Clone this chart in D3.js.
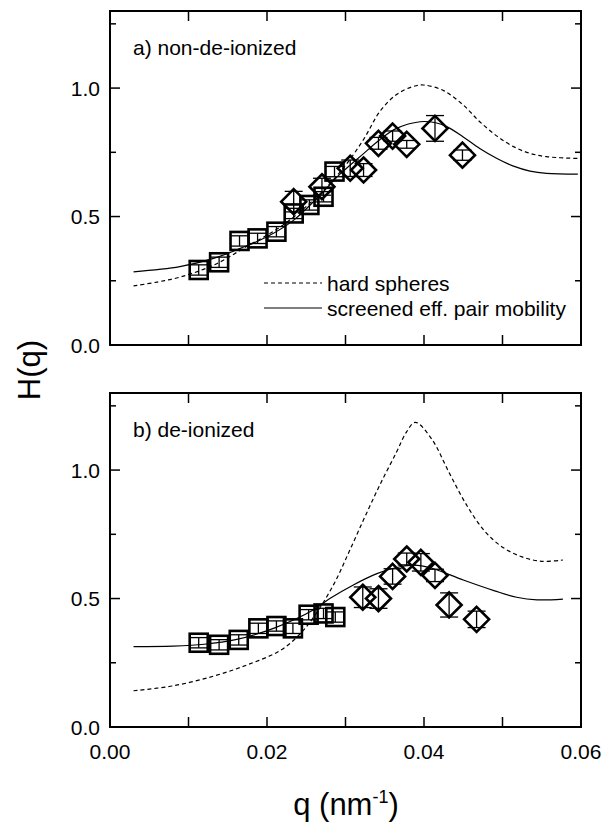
<!DOCTYPE html>
<html>
<head>
<meta charset="utf-8">
<script src="https://cdn.jsdelivr.net/npm/d3@7"></script>
<style>
  body { margin: 0; background: #fff; }
  text { font-family: "Liberation Sans", Arial, Helvetica, sans-serif; fill: #000; }
</style>
</head>
<body>
<svg id="chart"></svg>
<script>
// panel a) non-de-ionized : [q, H, err]
const squaresA = [
  [0.0113, 0.292, 0.02], [0.0139, 0.322, 0.02], [0.0165, 0.405, 0.02],
  [0.0188, 0.415, 0.02], [0.0212, 0.441, 0.02], [0.0234, 0.512, 0.02],
  [0.0254, 0.545, 0.02], [0.0272, 0.577, 0.02], [0.0286, 0.675, 0.02]
];
const diamondsA = [
  [0.0234, 0.558, 0.04], [0.0270, 0.616, 0.033], [0.0306, 0.688, 0.032],
  [0.0323, 0.681, 0.025], [0.0342, 0.785, 0.023], [0.0360, 0.813, 0.02],
  [0.0378, 0.781, 0.015], [0.0414, 0.843, 0.05], [0.0449, 0.739, 0.02]
];
const hardA = [
  [0.003, 0.23], [0.006, 0.245], [0.009, 0.265], [0.0132, 0.311], [0.0174, 0.383],
  [0.0217, 0.46], [0.0259, 0.564], [0.0295, 0.68], [0.0323, 0.80], [0.0344, 0.91],
  [0.0365, 0.975], [0.0385, 1.005], [0.0399, 1.012], [0.0425, 0.99], [0.045, 0.934],
  [0.0471, 0.869], [0.0493, 0.813], [0.0514, 0.772], [0.0535, 0.746],
  [0.0556, 0.733], [0.0596, 0.726]
];
const screenedA = [
  [0.003, 0.285], [0.0089, 0.305], [0.0132, 0.337], [0.0166, 0.376], [0.020, 0.421],
  [0.0234, 0.486], [0.0268, 0.585], [0.0293, 0.665], [0.0323, 0.745], [0.0344, 0.80],
  [0.0365, 0.843], [0.0395, 0.869], [0.0415, 0.865], [0.0429, 0.85], [0.045, 0.81],
  [0.0471, 0.765], [0.0493, 0.726], [0.0514, 0.696], [0.0535, 0.677],
  [0.0556, 0.668], [0.0596, 0.665]
];

// panel b) de-ionized
const squaresB = [
  [0.0113, 0.328, 0.02], [0.0139, 0.320, 0.02], [0.0164, 0.339, 0.02],
  [0.0189, 0.384, 0.02], [0.0212, 0.393, 0.02], [0.0233, 0.384, 0.02],
  [0.0253, 0.437, 0.02], [0.0272, 0.442, 0.02], [0.0287, 0.428, 0.02]
];
const diamondsB = [
  [0.0322, 0.505, 0.04], [0.0342, 0.500, 0.038], [0.0360, 0.586, 0.03],
  [0.0378, 0.654, 0.023], [0.0396, 0.641, 0.034], [0.0414, 0.590, 0.024],
  [0.0432, 0.475, 0.047], [0.0467, 0.419, 0.032]
];
const hardB = [
  [0.003, 0.141], [0.008, 0.16], [0.0132, 0.198], [0.0175, 0.242], [0.0217, 0.298],
  [0.0242, 0.362], [0.026, 0.43], [0.0285, 0.555], [0.0305, 0.685], [0.0325, 0.82],
  [0.0345, 0.95], [0.0365, 1.07], [0.0378, 1.15], [0.0389, 1.186], [0.041, 1.12],
  [0.0432, 0.99], [0.0455, 0.86], [0.0478, 0.76], [0.050, 0.70], [0.0525, 0.662],
  [0.055, 0.645], [0.0577, 0.65]
];
const screenedB = [
  [0.003, 0.313], [0.008, 0.315], [0.012, 0.322], [0.016, 0.34], [0.021, 0.386],
  [0.026, 0.457], [0.028, 0.50], [0.031, 0.553], [0.034, 0.597], [0.036, 0.617],
  [0.0387, 0.63], [0.041, 0.618], [0.045, 0.572], [0.049, 0.53], [0.0518, 0.505],
  [0.0544, 0.495], [0.0577, 0.498]
];

const xTicks = [0, 0.01, 0.02, 0.03, 0.04, 0.05, 0.06];
const xTickLabels = ['0.00', '0.02', '0.04', '0.06'];
const yTicks = [0, 0.25, 0.5, 0.75, 1.0, 1.25];
const yTickLabels = ['0.0', '0.5', '1.0'];
const legendNames = ['hard spheres', 'screened eff. pair mobility'];
const panelLabels = ['a) non-de-ionized', 'b) de-ionized'];

const W = 616, H = 829;
const margin = { left: 110, right: 35 };
const panelTops = [11, 393], panelH = 334;

const svg = d3.select('#chart').attr('width', W).attr('height', H);
svg.append('rect').attr('width', W).attr('height', H).attr('fill', '#fff');

const x = d3.scaleLinear().domain([0, 0.06]).range([margin.left, W - margin.right]);

const drawPanel = (top, squares, diamonds, hard, screened, label, isBottom, withLegend) => {
  const y = d3.scaleLinear().domain([0, 1.3]).range([top + panelH, top]);
  const g = svg.append('g');

  // frame
  g.append('rect')
    .attr('x', x(0)).attr('y', y(1.3))
    .attr('width', x(0.06) - x(0)).attr('height', y(0) - y(1.3))
    .attr('fill', 'none').attr('stroke', '#000').attr('stroke-width', 2);

  // ticks (inward, all four sides)
  const isMajorY = d => Math.abs(d * 2 - Math.round(d * 2)) < 1e-6;
  xTicks.forEach(d => {
    g.append('line').attr('x1', x(d)).attr('x2', x(d))
      .attr('y1', y(0)).attr('y2', y(0) - 10).attr('stroke', '#000').attr('stroke-width', 1.5);
    g.append('line').attr('x1', x(d)).attr('x2', x(d))
      .attr('y1', y(1.3)).attr('y2', y(1.3) + 10).attr('stroke', '#000').attr('stroke-width', 1.5);
  });
  yTicks.forEach(d => {
    const len = isMajorY(d) ? 10 : 6;
    g.append('line').attr('x1', x(0)).attr('x2', x(0) + len)
      .attr('y1', y(d)).attr('y2', y(d)).attr('stroke', '#000').attr('stroke-width', 1.5);
    g.append('line').attr('x1', x(0.06)).attr('x2', x(0.06) - len)
      .attr('y1', y(d)).attr('y2', y(d)).attr('stroke', '#000').attr('stroke-width', 1.5);
  });

  g.selectAll('.ylab').data(yTickLabels).enter().append('text')
    .attr('x', x(0) - 10).attr('y', d => y(+d) + 7.5)
    .attr('text-anchor', 'end').attr('font-size', 21).text(d => d);

  if (isBottom) {
    g.selectAll('.xlab').data(xTickLabels).enter().append('text')
      .attr('x', d => x(+d)).attr('y', y(0) + 32)
      .attr('text-anchor', 'middle').attr('font-size', 21).text(d => d);
  }

  g.append('text').attr('x', x(0) + 23).attr('y', top + 44)
    .attr('font-size', 21).text(label);

  // curves
  const line = d3.line().x(d => x(d[0])).y(d => y(d[1])).curve(d3.curveCatmullRom.alpha(0.5));
  g.append('path').datum(hard).attr('d', line)
    .attr('fill', 'none').attr('stroke', '#000').attr('stroke-width', 1.2)
    .attr('stroke-dasharray', '4,3');
  g.append('path').datum(screened).attr('d', line)
    .attr('fill', 'none').attr('stroke', '#000').attr('stroke-width', 1.2);

  // error bars
  const errBars = (data) => {
    const eb = g.append('g').attr('stroke', '#000').attr('stroke-width', 1.3);
    data.forEach(d => {
      eb.append('line').attr('x1', x(d[0])).attr('x2', x(d[0]))
        .attr('y1', y(d[1] - d[2])).attr('y2', y(d[1] + d[2]));
      [d[1] - d[2], d[1] + d[2]].forEach(v => {
        eb.append('line').attr('x1', x(d[0]) - 9).attr('x2', x(d[0]) + 9)
          .attr('y1', y(v)).attr('y2', y(v));
      });
    });
  };
  errBars(squares);
  errBars(diamonds);

  // markers
  g.selectAll('.sq').data(squares).enter().append('rect')
    .attr('x', d => x(d[0]) - 9).attr('y', d => y(d[1]) - 9)
    .attr('width', 18).attr('height', 18)
    .attr('fill', 'none').attr('stroke', '#000').attr('stroke-width', 2.6);
  g.selectAll('.dm').data(diamonds).enter().append('path')
    .attr('d', d => {
      const cx = x(d[0]), cy = y(d[1]), r = 12.5;
      return `M${cx},${cy - r}L${cx + r},${cy}L${cx},${cy + r}L${cx - r},${cy}Z`;
    })
    .attr('fill', 'none').attr('stroke', '#000').attr('stroke-width', 2.6);

  if (withLegend) {
    const lx = 264, ly = [283, 308];
    g.append('line').attr('x1', lx).attr('x2', lx + 58).attr('y1', ly[0]).attr('y2', ly[0])
      .attr('stroke', '#000').attr('stroke-width', 1.2).attr('stroke-dasharray', '4,3');
    g.append('line').attr('x1', lx).attr('x2', lx + 58).attr('y1', ly[1]).attr('y2', ly[1])
      .attr('stroke', '#000').attr('stroke-width', 1.2);
    legendNames.forEach((n, i) => {
      g.append('text').attr('x', lx + 63).attr('y', ly[i] + 7.5)
        .attr('font-size', 21).text(n);
    });
  }
};

drawPanel(panelTops[0], squaresA, diamondsA, hardA, screenedA, panelLabels[0], false, true);
drawPanel(panelTops[1], squaresB, diamondsB, hardB, screenedB, panelLabels[1], true, false);

// axis titles
svg.append('text')
  .attr('transform', `translate(40, 370) rotate(-90)`)
  .attr('text-anchor', 'middle').attr('font-size', 31).text('H(q)');

const xt = svg.append('text').attr('x', 346).attr('y', 815)
  .attr('text-anchor', 'middle').attr('font-size', 31);
xt.append('tspan').text('q (nm');
xt.append('tspan').attr('font-size', 18).attr('dy', -12).text('-1');
xt.append('tspan').attr('dy', 12).text(')');
</script>
</body>
</html>
